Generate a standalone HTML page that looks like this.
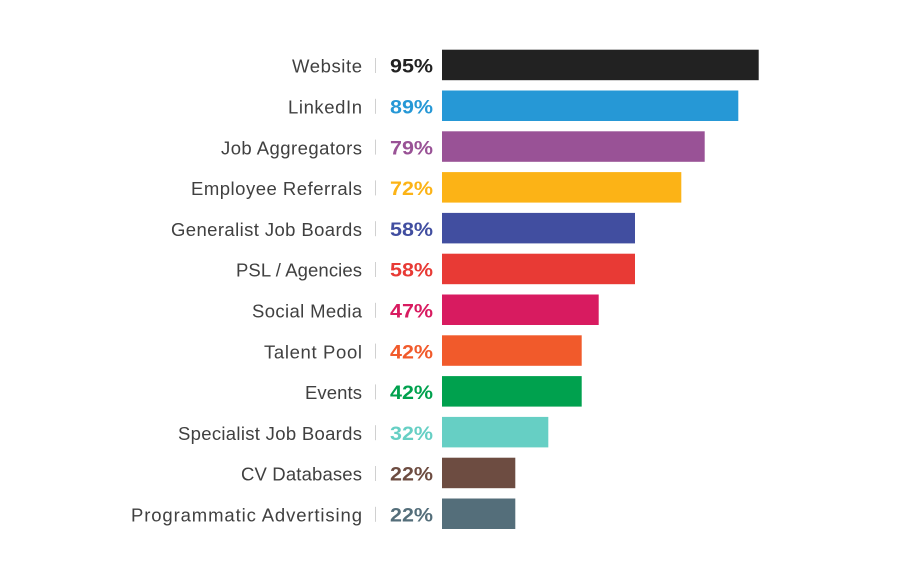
<!DOCTYPE html>
<html>
<head>
<meta charset="utf-8">
<style>
html,body{margin:0;padding:0;background:#fff;}
svg{display:block;}
.l{font-family:"Liberation Sans",sans-serif;font-size:18.5px;fill:#404040;}
.p{font-family:"Liberation Sans",sans-serif;font-size:19.5px;font-weight:bold;}
</style>
</head>
<body>
<svg width="900" height="580" viewBox="0 0 900 580" xmlns="http://www.w3.org/2000/svg">
<!-- Row 0 -->
<rect x="442" y="49.7" width="316.7" height="30.5" fill="#222222"/>
<text class="l" x="362" y="72.7" text-anchor="end" textLength="70" lengthAdjust="spacing">Website</text>
<rect x="375" y="58" width="1" height="15" fill="#d0d0d0"/>
<text class="p" x="433" y="72.7" text-anchor="end" fill="#222222" textLength="43" lengthAdjust="spacingAndGlyphs">95%</text>
<!-- Row 1 -->
<rect x="442" y="90.5" width="296.3" height="30.5" fill="#2698d6"/>
<text class="l" x="362" y="113.5" text-anchor="end" textLength="74" lengthAdjust="spacing">LinkedIn</text>
<rect x="375" y="98.8" width="1" height="15" fill="#d0d0d0"/>
<text class="p" x="433" y="113.5" text-anchor="end" fill="#2698d6" textLength="43" lengthAdjust="spacingAndGlyphs">89%</text>
<!-- Row 2 -->
<rect x="442" y="131.3" width="262.7" height="30.5" fill="#995296"/>
<text class="l" x="362" y="154.3" text-anchor="end" textLength="141" lengthAdjust="spacing">Job Aggregators</text>
<rect x="375" y="139.6" width="1" height="15" fill="#d0d0d0"/>
<text class="p" x="433" y="154.3" text-anchor="end" fill="#995296" textLength="43" lengthAdjust="spacingAndGlyphs">79%</text>
<!-- Row 3 -->
<rect x="442" y="172.1" width="239.3" height="30.5" fill="#fcb316"/>
<text class="l" x="362" y="195.1" text-anchor="end" textLength="171" lengthAdjust="spacing">Employee Referrals</text>
<rect x="375" y="180.4" width="1" height="15" fill="#d0d0d0"/>
<text class="p" x="433" y="195.1" text-anchor="end" fill="#fcb316" textLength="43" lengthAdjust="spacingAndGlyphs">72%</text>
<!-- Row 4 -->
<rect x="442" y="212.9" width="193" height="30.5" fill="#414ea0"/>
<text class="l" x="362" y="235.9" text-anchor="end" textLength="191" lengthAdjust="spacing">Generalist Job Boards</text>
<rect x="375" y="221.2" width="1" height="15" fill="#d0d0d0"/>
<text class="p" x="433" y="235.9" text-anchor="end" fill="#414ea0" textLength="43" lengthAdjust="spacingAndGlyphs">58%</text>
<!-- Row 5 -->
<rect x="442" y="253.7" width="193" height="30.5" fill="#e83a35"/>
<text class="l" x="362" y="276.7" text-anchor="end" textLength="126" lengthAdjust="spacing">PSL / Agencies</text>
<rect x="375" y="262" width="1" height="15" fill="#d0d0d0"/>
<text class="p" x="433" y="276.7" text-anchor="end" fill="#e83a35" textLength="43" lengthAdjust="spacingAndGlyphs">58%</text>
<!-- Row 6 -->
<rect x="442" y="294.5" width="156.7" height="30.5" fill="#d81b60"/>
<text class="l" x="362" y="317.5" text-anchor="end" textLength="110" lengthAdjust="spacing">Social Media</text>
<rect x="375" y="302.8" width="1" height="15" fill="#d0d0d0"/>
<text class="p" x="433" y="317.5" text-anchor="end" fill="#d81b60" textLength="43" lengthAdjust="spacingAndGlyphs">47%</text>
<!-- Row 7 -->
<rect x="442" y="335.3" width="139.7" height="30.5" fill="#f15a2b"/>
<text class="l" x="362" y="358.3" text-anchor="end" textLength="98" lengthAdjust="spacing">Talent Pool</text>
<rect x="375" y="343.6" width="1" height="15" fill="#d0d0d0"/>
<text class="p" x="433" y="358.3" text-anchor="end" fill="#f15a2b" textLength="43" lengthAdjust="spacingAndGlyphs">42%</text>
<!-- Row 8 -->
<rect x="442" y="376.1" width="139.7" height="30.5" fill="#00a14e"/>
<text class="l" x="362" y="399.1" text-anchor="end" textLength="57" lengthAdjust="spacing">Events</text>
<rect x="375" y="384.4" width="1" height="15" fill="#d0d0d0"/>
<text class="p" x="433" y="399.1" text-anchor="end" fill="#00a14e" textLength="43" lengthAdjust="spacingAndGlyphs">42%</text>
<!-- Row 9 -->
<rect x="442" y="416.9" width="106.3" height="30.5" fill="#66cfc4"/>
<text class="l" x="362" y="439.9" text-anchor="end" textLength="184" lengthAdjust="spacing">Specialist Job Boards</text>
<rect x="375" y="425.2" width="1" height="15" fill="#d0d0d0"/>
<text class="p" x="433" y="439.9" text-anchor="end" fill="#66cfc4" textLength="43" lengthAdjust="spacingAndGlyphs">32%</text>
<!-- Row 10 -->
<rect x="442" y="457.7" width="73.3" height="30.5" fill="#6d4c41"/>
<text class="l" x="362" y="480.7" text-anchor="end" textLength="121" lengthAdjust="spacing">CV Databases</text>
<rect x="375" y="466" width="1" height="15" fill="#d0d0d0"/>
<text class="p" x="433" y="480.7" text-anchor="end" fill="#6d4c41" textLength="43" lengthAdjust="spacingAndGlyphs">22%</text>
<!-- Row 11 -->
<rect x="442" y="498.5" width="73.3" height="30.5" fill="#546e7a"/>
<text class="l" x="362" y="521.5" text-anchor="end" textLength="231" lengthAdjust="spacing">Programmatic Advertising</text>
<rect x="375" y="506.8" width="1" height="15" fill="#d0d0d0"/>
<text class="p" x="433" y="521.5" text-anchor="end" fill="#546e7a" textLength="43" lengthAdjust="spacingAndGlyphs">22%</text>
</svg>
</body>
</html>
